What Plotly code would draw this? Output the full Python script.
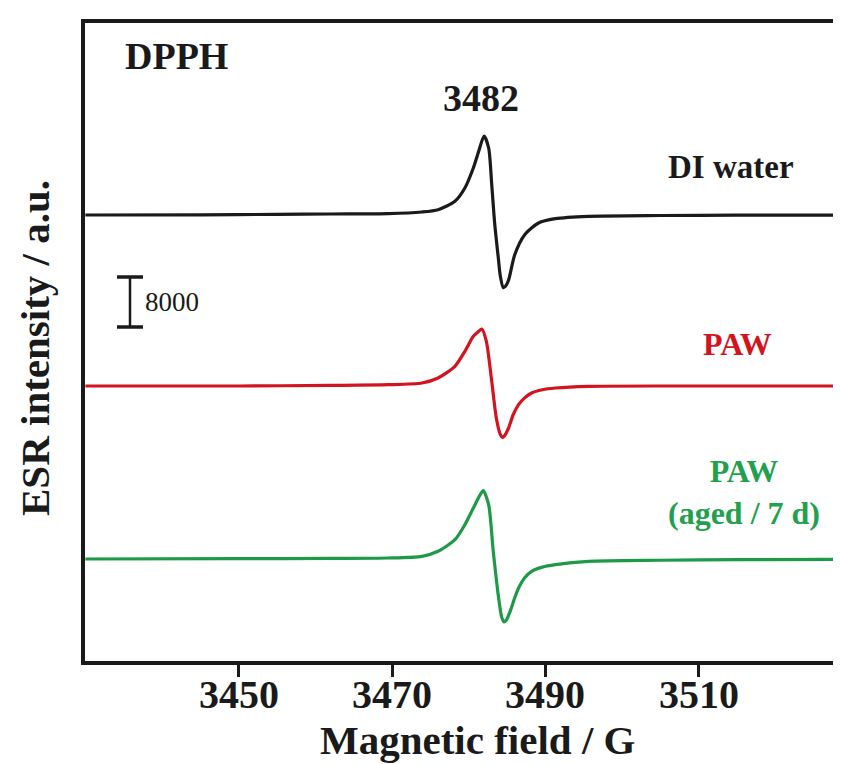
import plotly.graph_objects as go

# ---------------- data ----------------
field_di = [3430, 3445, 3455, 3462, 3469.5, 3473.9, 3476.0, 3478.2, 3479.5, 3480.6, 3481.3,
            3482.0, 3482.6, 3483.0, 3483.4, 3483.9, 3484.1, 3484.5, 3484.8, 3485.2, 3486.0,
            3487.3, 3489.1, 3491.3, 3495.6, 3505, 3515, 3529.6]
signal_di = [0, 30, 100, 160, 210, 480, 850, 2190, 4320, 7520, 10190,
             12640, 10720, 4850, -1550, -7360, -9600, -11600, -11400, -10400, -6350,
             -3150, -1280, -590, -210, -80, -30, 0]

field_paw = [3430, 3450, 3462, 3469.5, 3473.9, 3476.0, 3478.2, 3479.5, 3480.6, 3481.3,
             3481.7, 3482.3, 3483.0, 3483.6, 3484.1, 3484.4, 3484.7, 3485.2, 3485.8, 3486.5,
             3487.3, 3488.2, 3489.6, 3491.3, 3495.6, 3510, 3529.6]
signal_paw = [0, 0, 100, 210, 480, 1280, 3150, 5550, 7950, 8750,
              9120, 7150, 750, -5120, -7700, -8210, -7900, -6720, -4600, -2990,
              -1900, -1120, -600, -320, -50, 0, 0]

field_aged = [3430, 3450, 3462, 3469.5, 3473.9, 3476.0, 3478.2, 3479.5, 3480.6, 3481.5,
              3481.9, 3482.6, 3483.2, 3483.9, 3484.3, 3484.6, 3484.9, 3485.4, 3486.0, 3486.5,
              3487.3, 3488.2, 3489.6, 3491.3, 3495.6, 3505, 3515, 3529.6]
signal_aged = [0, 50, 100, 160, 430, 1230, 3090, 5490, 8160, 10290,
               10930, 8690, 1230, -6240, -9300, -10080, -9800, -8370, -6200, -4640,
               -3000, -1970, -1300, -910, -370, -200, -100, -50]

series_names = ["DI water", "PAW", "PAW<br>(aged / 7 d)"]
series_offsets = [71360, 44000, 16320]
peak_label = "3482"
scale_value = 8000
x_ticks = [3450, 3470, 3490, 3510]

# ---------------- styling ----------------
BLACK = "#1a1a1a"
RED = "#d2141e"
GREEN = "#1d9a48"
FONT = "Liberation Serif"

X_RANGE = [3429.95, 3529.6]
Y_RANGE = [0, 102080]

# layout geometry (pixels)
W, H = 841, 764
L, R, T, B = 77, 0, 15, 111
PW, PH = W - L - R, H - T - B


def px_x(px):
    return (px - L) / PW


def px_y(py):
    return (H - B - py) / PH


fig = go.Figure()
colors = [BLACK, RED, GREEN]
data = [(field_di, signal_di), (field_paw, signal_paw), (field_aged, signal_aged)]
for (fx, sy), off, col, name in zip(data, series_offsets, colors, series_names):
    fig.add_trace(go.Scatter(
        x=fx, y=[v + off for v in sy], mode="lines",
        line=dict(color=col, width=3.2, shape="spline", smoothing=0.7),
        name=name, showlegend=False, hoverinfo="skip"))

# scale bar (in data units)
sb_x = X_RANGE[0] + (122 - L) / PW * (X_RANGE[1] - X_RANGE[0])
sb_half = 13 / PW * (X_RANGE[1] - X_RANGE[0])
sb_y0 = 53440
sb_y1 = sb_y0 + scale_value
fig.add_shape(type="line", x0=sb_x, x1=sb_x, y0=sb_y0, y1=sb_y1, xref="x", yref="y",
              line=dict(color=BLACK, width=2.5))
for yy in (sb_y0, sb_y1):
    fig.add_shape(type="line", x0=sb_x - sb_half, x1=sb_x + sb_half, y0=yy, y1=yy,
                  xref="x", yref="y", line=dict(color=BLACK, width=3.5))

annotations = [
    dict(text=str(scale_value), x=px_x(135), y=px_y(294), xanchor="left", yanchor="middle",
         font=dict(family=FONT, size=27, color=BLACK)),
    dict(text="<b>DPPH</b>", x=px_x(168), y=px_y(48), xanchor="center", yanchor="middle",
         font=dict(family=FONT, size=38, color=BLACK)),
    dict(text="<b>" + peak_label + "</b>", x=px_x(473), y=px_y(90), xanchor="center", yanchor="middle",
         font=dict(family=FONT, size=38, color=BLACK)),
    dict(text="<b>" + series_names[0] + "</b>", x=px_x(723), y=px_y(159), xanchor="center", yanchor="middle",
         font=dict(family=FONT, size=33, color=BLACK)),
    dict(text="<b>" + series_names[1] + "</b>", x=px_x(729), y=px_y(336), xanchor="center", yanchor="middle",
         font=dict(family=FONT, size=32, color=RED)),
    dict(text="<b>" + series_names[2] + "</b>", x=px_x(736), y=px_y(484), xanchor="center", yanchor="middle",
         font=dict(family=FONT, size=32, color="#22a04e")),
    dict(text="<b>Magnetic field / G</b>", x=px_x(469), y=px_y(732), xanchor="center", yanchor="middle",
         font=dict(family=FONT, size=41, color=BLACK)),
    dict(text="<b>ESR intensity / a.u.</b>", x=px_x(27), y=px_y(340), xanchor="center", yanchor="middle",
         textangle=-90, font=dict(family=FONT, size=41, color=BLACK)),
]
for a in annotations:
    a.update(xref="paper", yref="paper", showarrow=False)

# x tick labels drawn close to the axis, as in the reference
for tv in x_ticks:
    annotations.append(dict(text="<b>%d</b>" % tv, x=tv, xref="x", y=px_y(686), yref="paper",
                            xanchor="center", yanchor="middle", showarrow=False,
                            font=dict(family=FONT, size=40, color=BLACK)))

fig.update_layout(
    width=W, height=H,
    margin=dict(l=L, r=R, t=T, b=B),
    paper_bgcolor="white", plot_bgcolor="white",
    annotations=annotations,
    xaxis=dict(range=X_RANGE, tickvals=x_ticks, ticks="outside", ticklen=12, tickwidth=3,
               tickcolor=BLACK, showline=True, linewidth=3.5, linecolor=BLACK, mirror=True,
               showgrid=False, zeroline=False, showticklabels=False),
    yaxis=dict(range=Y_RANGE, showticklabels=False, ticks="", showline=True, linewidth=3.5,
               linecolor=BLACK, mirror=False, showgrid=False, zeroline=False),
)

fig.write_html("out.html")
